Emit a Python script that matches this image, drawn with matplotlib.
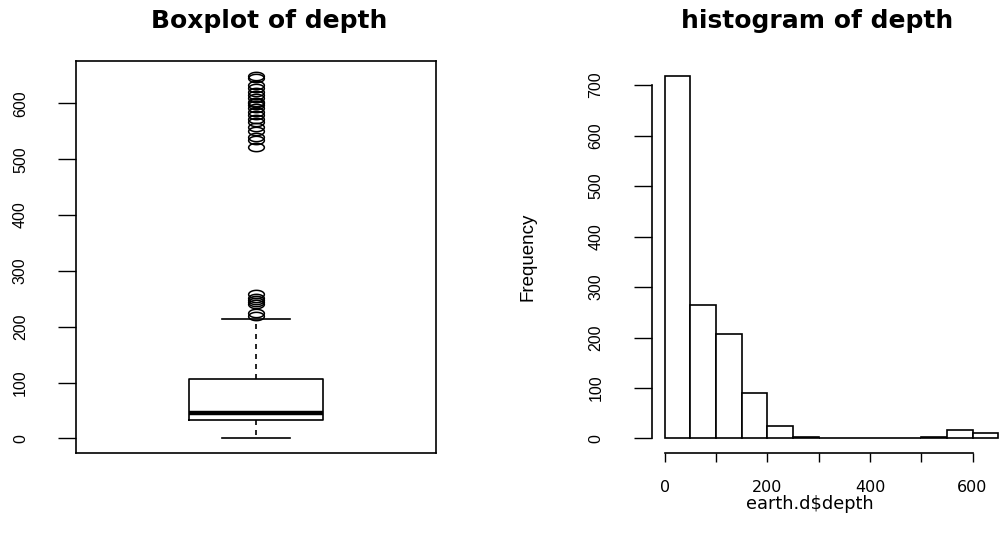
import numpy as np
import matplotlib
matplotlib.use('Agg')
import matplotlib.pyplot as plt
from matplotlib.path import Path

# Boxplot summary of depth
depth_quartiles = [33, 45, 106]      # q1, median, q3
depth_whiskers = [0, 214]            # low, high
depth_outliers = [220, 224, 240, 244, 248, 252, 258,
                  522, 535, 540, 550, 558, 566, 573, 580, 585, 591,
                  597, 600, 603, 609, 615, 621, 627, 633, 645, 650]

# Histogram of depth
hist_edges = [0, 50, 100, 150, 200, 250, 300, 350, 400, 450, 500, 550, 600, 650]
hist_counts = [719, 265, 207, 90, 24, 2, 0, 0, 0, 0, 3, 17, 11]

box_yticks = [0, 100, 200, 300, 400, 500, 600]
hist_yticks = [0, 100, 200, 300, 400, 500, 600, 700]
hist_xticks = [0, 100, 200, 300, 400, 500, 600]
hist_xticklabels = ['0', '', '200', '', '400', '', '600']

# rotated text is squashed in the reference, so use the narrower family there
narrow = ['Liberation Sans Narrow', 'Liberation Sans', 'DejaVu Sans']
W, H = 999, 533

# flat open circle (the picture is squashed vertically)
t = np.linspace(0, 2 * np.pi, 60)
ellipse = Path(np.column_stack([np.cos(t), 0.53 * np.sin(t)]), closed=True)

fig = plt.figure(figsize=(W / 100, H / 100), dpi=100)
fig.patch.set_facecolor('white')

def px_axes(left, top, right, bottom):
    return fig.add_axes([left / W, 1 - bottom / H, (right - left) / W, (bottom - top) / H])

# ---- boxplot ----
ax1 = px_axes(76, 61, 436, 453)
stats = [dict(q1=depth_quartiles[0], med=depth_quartiles[1], q3=depth_quartiles[2],
              whislo=depth_whiskers[0], whishi=depth_whiskers[1], fliers=depth_outliers)]
ax1.bxp(stats, positions=[1], widths=0.373, capwidths=0.188, showfliers=True,
        boxprops=dict(color='black', linewidth=1.2),
        medianprops=dict(color='black', linewidth=3.2),
        whiskerprops=dict(color='black', linewidth=1.2, linestyle=(0, (3, 3))),
        capprops=dict(color='black', linewidth=1.2),
        flierprops=dict(marker=ellipse, markersize=11.3, markerfacecolor='none',
                        markeredgecolor='black', markeredgewidth=1.1, linestyle='none'))
lo = min([depth_whiskers[0]] + depth_outliers)
hi = max([depth_whiskers[1]] + depth_outliers)
pad = 0.04 * (hi - lo)
ax1.set_ylim(lo - pad, hi + pad)
ax1.set_xlim(0.5, 1.5)
ax1.set_xticks([])
ax1.set_yticks(box_yticks)
ax1.set_yticklabels([str(v) for v in box_yticks], rotation=90, ha='center', va='center',
                    family=narrow, fontsize=11.5)
ax1.tick_params(axis='y', length=13, width=1.0, pad=27)
for s in ax1.spines.values():
    s.set_linewidth(1.2)

# ---- histogram ----
ax2 = px_axes(651.5, 61, 1011.5, 453)
ax2.bar(hist_edges[:-1], hist_counts, width=np.diff(hist_edges), align='edge',
        color='white', edgecolor='black', linewidth=1.2)
xpad = 0.04 * (hist_edges[-1] - hist_edges[0])
ax2.set_xlim(hist_edges[0] - xpad, hist_edges[-1] + xpad)
ypad = 0.04 * max(hist_counts)
ax2.set_ylim(-ypad, max(hist_counts) + ypad)
ax2.set_yticks(hist_yticks)
ax2.set_yticklabels([str(v) for v in hist_yticks], rotation=90, ha='center', va='center',
                    family=narrow, fontsize=11.5)
ax2.set_xticks(hist_xticks)
ax2.set_xticklabels(hist_xticklabels, fontsize=11.5)
ax2.tick_params(axis='y', length=13, width=1.0, pad=27)
ax2.tick_params(axis='x', length=6.5, width=1.0, pad=13)
for side in ['top', 'right']:
    ax2.spines[side].set_visible(False)
ax2.spines['left'].set_bounds(hist_yticks[0], hist_yticks[-1])
ax2.spines['bottom'].set_bounds(hist_xticks[0], hist_xticks[-1])
ax2.spines['left'].set_linewidth(1.2)
ax2.spines['bottom'].set_linewidth(1.2)
ax2.patch.set_visible(False)

# ---- titles and labels ----
fig.text(269 / W, 1 - 28 / H, 'Boxplot of depth', ha='center', va='baseline',
         fontsize=18, fontweight='bold')
fig.text(817 / W, 1 - 28 / H, 'histogram of depth', ha='center', va='baseline',
         fontsize=18, fontweight='bold')
fig.text(810 / W, 1 - 509 / H, 'earth.d$depth', ha='center', va='baseline', fontsize=12.8)
fig.text(528 / W, 1 - 257 / H, 'Frequency', ha='center', va='center', rotation=90,
         family=narrow, fontsize=13.5)

fig.savefig('out.png', dpi=100)
